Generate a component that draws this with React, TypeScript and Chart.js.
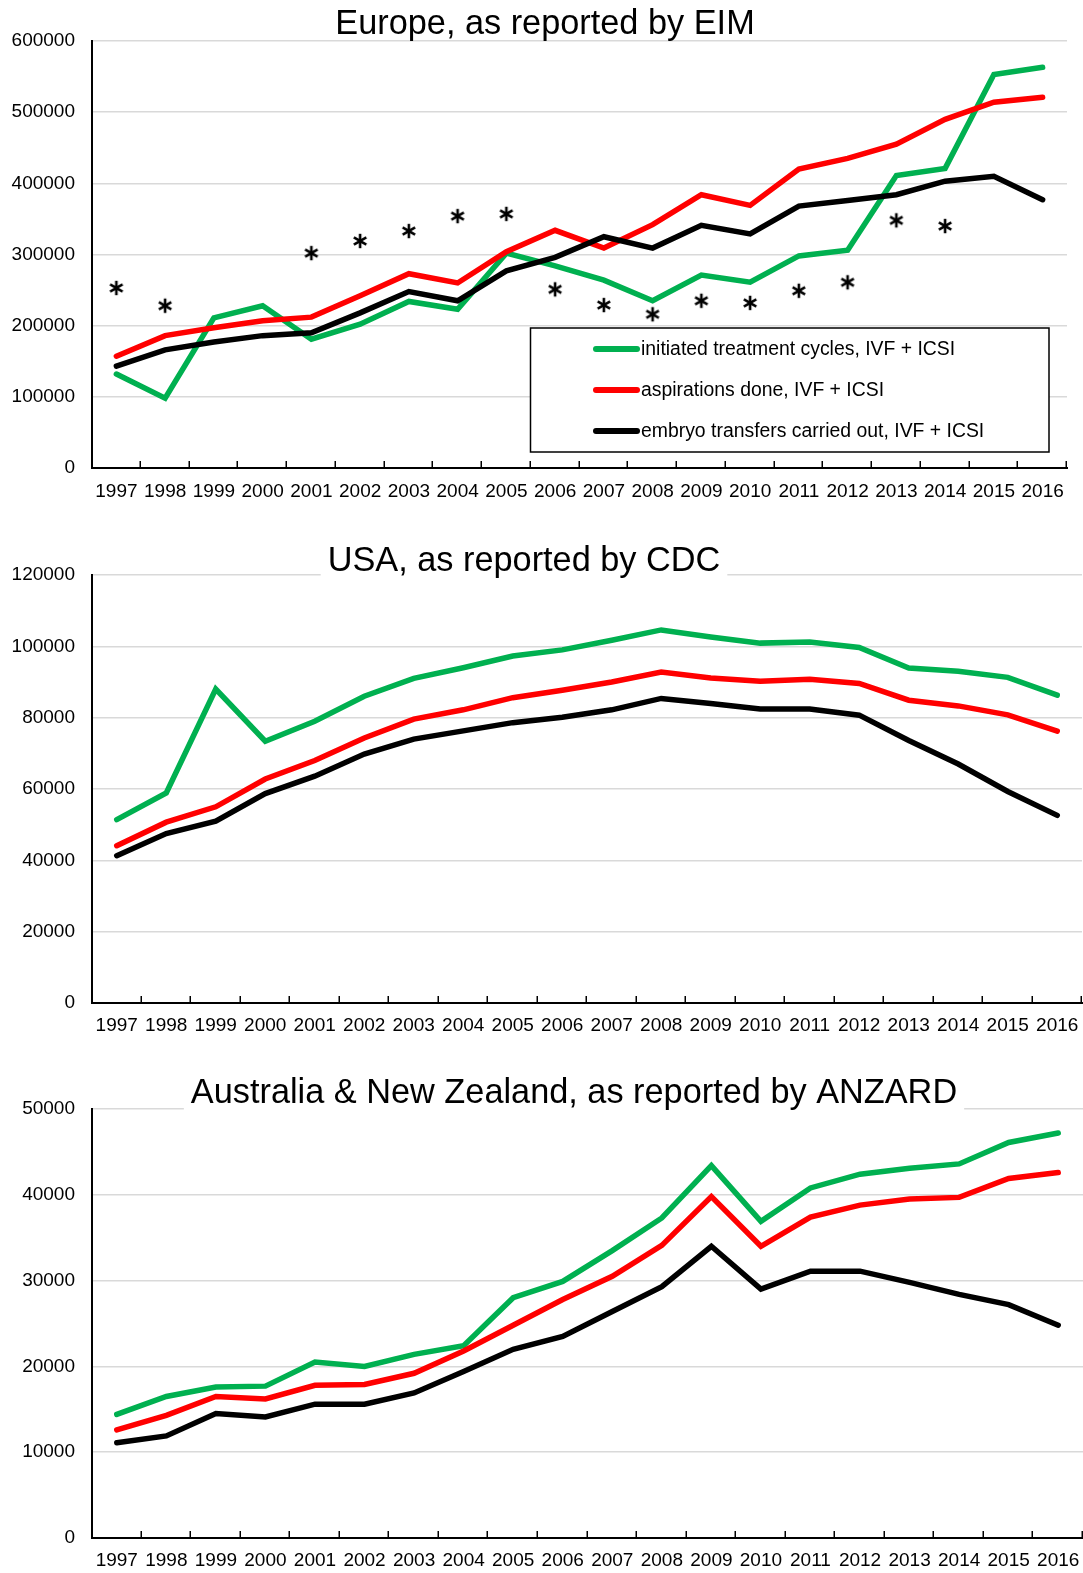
import React, { useEffect, useRef } from 'react';
import { Chart, registerables } from 'chart.js';

Chart.register(...registerables);

// ---------- data ----------
const years = ['1997', '1998', '1999', '2000', '2001', '2002', '2003', '2004', '2005', '2006', '2007', '2008', '2009', '2010', '2011', '2012', '2013', '2014', '2015', '2016'];

const seriesLabels = [
  'initiated treatment cycles, IVF + ICSI',
  'aspirations done, IVF + ICSI',
  'embryo transfers carried out, IVF + ICSI',
];

const titles = [
  'Europe, as reported by EIM',
  'USA, as reported by CDC',
  'Australia & New Zealand, as reported by ANZARD',
];

const euInitiated = [132000, 98000, 211000, 228000, 181000, 202000, 234000, 223000, 302000, 284000, 264000, 235000, 271000, 261000, 298000, 306000, 411000, 421000, 553000, 563000];
const euAspirations = [157000, 186000, 197000, 207000, 212000, 242000, 273000, 260000, 304000, 334000, 309000, 342000, 384000, 369000, 420000, 435000, 455000, 490000, 514000, 521000];
const euTransfers = [143000, 166000, 177000, 186000, 190000, 218000, 248000, 235000, 277000, 296000, 325000, 309000, 341000, 329000, 368000, 376000, 384000, 403000, 410000, 377000];
const euAsterisks = [253000, 228000, null, null, 302000, 319000, 333000, 354000, 357000, 251000, 229000, 216000, 235000, 232000, 249000, 261000, 348000, 340000, null, null];

const usInitiated = [51400, 58900, 88000, 73400, 79000, 86000, 91000, 94000, 97300, 99000, 101700, 104600, 102600, 100900, 101200, 99700, 93900, 93000, 91300, 86300];
const usAspirations = [44100, 50700, 55000, 62800, 68000, 74300, 79600, 82200, 85600, 87700, 90000, 92800, 91100, 90200, 90800, 89600, 84900, 83300, 80800, 76200];
const usTransfers = [41300, 47500, 51000, 58700, 63600, 69800, 74000, 76300, 78600, 80100, 82200, 85400, 84000, 82400, 82400, 80700, 73600, 67000, 59300, 52600];

const anzInitiated = [14400, 16500, 17600, 17700, 20500, 20000, 21400, 22400, 28000, 29900, 33500, 37300, 43400, 36900, 40800, 42400, 43100, 43600, 46100, 47200];
const anzAspirations = [12600, 14300, 16500, 16200, 17800, 17900, 19200, 21800, 24800, 27800, 30500, 34100, 39800, 34000, 37400, 38800, 39500, 39700, 41900, 42600];
const anzTransfers = [11100, 11900, 14500, 14100, 15600, 15600, 16900, 19400, 22000, 23500, 26400, 29300, 34000, 29000, 31100, 31100, 29800, 28400, 27200, 24800];

// ---------- styles ----------
const FONT = "'Liberation Sans', Arial, Helvetica, sans-serif";
const COLORS = ['#00B050', '#FF0000', '#000000'];
const W = 1083;

type Spec = {
  top: number; height: number; areaTop: number; areaBottom: number; right: number;
  max: number; step: number; title: string; titleX: number; titleBase: number; titleBg: boolean;
  labelPad: number; series: number[][]; stars?: (number | null)[]; legend?: boolean;
};

const specs: Spec[] = [
  { top: 0, height: 525, areaTop: 41, areaBottom: 468, right: 1067, max: 600000, step: 100000, title: titles[0], titleX: 545, titleBase: 34, titleBg: false, labelPad: 12, series: [euInitiated, euAspirations, euTransfers], stars: euAsterisks, legend: true },
  { top: 525, height: 530, areaTop: 50, areaBottom: 478, right: 1082, max: 120000, step: 20000, title: titles[1], titleX: 524, titleBase: 46, titleBg: true, labelPad: 11, series: [usInitiated, usAspirations, usTransfers] },
  { top: 1055, height: 518, areaTop: 54, areaBottom: 483, right: 1083, max: 50000, step: 10000, title: titles[2], titleX: 574, titleBase: 48, titleBg: true, labelPad: 11, series: [anzInitiated, anzAspirations, anzTransfers] },
];

function asteriskImage(): HTMLCanvasElement {
  const c = document.createElement('canvas');
  c.width = 18; c.height = 18;
  const g = c.getContext('2d')!;
  g.strokeStyle = '#000';
  g.lineWidth = 2.6;
  const r = 7.2;
  for (let k = 0; k < 3; k++) {
    const a = Math.PI / 2 + (k * Math.PI) / 3;
    g.beginPath();
    g.moveTo(9 + r * Math.cos(a), 9 + r * Math.sin(a));
    g.lineTo(9 - r * Math.cos(a), 9 - r * Math.sin(a));
    g.stroke();
  }
  return c;
}

function makePlugins(spec: Spec) {
  const ticks = {
    id: 'innerTicks',
    afterDraw(chart: any) {
      const xs = chart.scales.x;
      const area = chart.chartArea;
      const n = chart.data.labels.length;
      const ctx = chart.ctx;
      ctx.save();
      ctx.strokeStyle = '#000';
      ctx.lineWidth = 1.5;
      for (let i = 1; i <= n; i++) {
        const px = Math.round(xs.left + ((xs.right - xs.left) * i) / n) - 0.75;
        ctx.beginPath();
        ctx.moveTo(px, area.bottom);
        ctx.lineTo(px, area.bottom - 7);
        ctx.stroke();
      }
      ctx.restore();
    },
  };
  const title = {
    id: 'overTitle',
    afterDraw(chart: any) {
      const ctx = chart.ctx;
      ctx.save();
      ctx.font = `34.3px ${FONT}`;
      const w = ctx.measureText(spec.title).width;
      if (spec.titleBg) {
        ctx.fillStyle = '#fff';
        ctx.fillRect(spec.titleX - w / 2 - 7, spec.titleBase - 32, w + 14, 42);
      }
      ctx.fillStyle = '#000';
      ctx.textAlign = 'center';
      ctx.textBaseline = 'alphabetic';
      ctx.fillText(spec.title, spec.titleX, spec.titleBase);
      ctx.restore();
    },
  };
  const legend = {
    id: 'boxLegend',
    afterDraw(chart: any) {
      if (!spec.legend) return;
      const ctx = chart.ctx;
      const x0 = 530.5, y0 = 328, x1 = 1049, y1 = 452;
      ctx.save();
      ctx.fillStyle = '#fff';
      ctx.fillRect(x0, y0, x1 - x0, y1 - y0);
      ctx.strokeStyle = '#000';
      ctx.lineWidth = 1.5;
      ctx.strokeRect(x0, y0, x1 - x0, y1 - y0);
      ctx.font = `19.4px ${FONT}`;
      ctx.textBaseline = 'middle';
      ctx.textAlign = 'left';
      const rows = [349, 390, 431];
      chart.data.datasets.slice(0, 3).forEach((ds: any, i: number) => {
        ctx.strokeStyle = ds.borderColor;
        ctx.lineWidth = 6;
        ctx.lineCap = 'round';
        ctx.beginPath();
        ctx.moveTo(596, rows[i]);
        ctx.lineTo(637, rows[i]);
        ctx.stroke();
        ctx.fillStyle = '#000';
        ctx.fillText(ds.label, 641, rows[i] + 1);
      });
      ctx.restore();
    },
  };
  return [ticks, title, legend];
}

function ChartPanel({ spec }: { spec: Spec }) {
  const ref = useRef<HTMLCanvasElement | null>(null);
  useEffect(() => {
    const datasets: any[] = spec.series.map((d, i) => ({
      label: seriesLabels[i],
      data: d,
      borderColor: COLORS[i],
      backgroundColor: COLORS[i],
      borderWidth: 5.5,
      pointRadius: 0,
      pointHoverRadius: 0,
      tension: 0,
      fill: false,
      borderCapStyle: 'round',
      borderJoinStyle: 'miter',
      order: 3 - i,
    }));
    if (spec.stars) {
      datasets.push({
        label: 'significance',
        data: spec.stars,
        showLine: false,
        pointStyle: asteriskImage(),
        pointRadius: 9,
        pointHoverRadius: 9,
        borderColor: '#000',
        backgroundColor: '#000',
        order: 0,
      });
    }
    const tickFont = { family: FONT, size: 19 };
    const chart = new Chart(ref.current!, {
      type: 'line',
      data: { labels: years, datasets },
      options: {
        animation: false,
        responsive: false,
        events: [],
        layout: { padding: { top: spec.areaTop, left: 0, right: W - spec.right, bottom: 0 } },
        plugins: { legend: { display: false }, tooltip: { enabled: false }, title: { display: false } },
        scales: {
          x: {
            offset: true,
            afterFit: (s: any) => {
              s.height = spec.height - spec.areaBottom;
              s.paddingLeft = 0;
              s.paddingRight = 0;
            },
            ticks: { padding: spec.labelPad, color: '#000', font: tickFont, autoSkip: false, maxRotation: 0, minRotation: 0 },
            grid: { display: false, drawTicks: false },
            border: { color: '#000', width: 2 },
          },
          y: {
            min: 0,
            max: spec.max,
            afterFit: (s: any) => { s.width = 92; },
            ticks: { stepSize: spec.step, padding: 17, color: '#000', font: tickFont, callback: (v: any) => String(v) },
            grid: {
              color: (c: any) => (c.tick && c.tick.value === 0 ? 'rgba(0,0,0,0)' : '#d9d9d9'),
              lineWidth: 1.5,
              drawTicks: false,
            },
            border: { color: '#000', width: 2 },
          },
        },
      } as any,
      plugins: makePlugins(spec) as any,
    });
    return () => chart.destroy();
  }, [spec]);
  return (
    <canvas
      ref={ref}
      width={W}
      height={spec.height}
      style={{ position: 'absolute', left: 0, top: spec.top, width: W, height: spec.height }}
    />
  );
}

export default function App() {
  return (
    <div style={{ position: 'absolute', left: 0, top: 0, width: W, height: 1573, background: '#fff' }}>
      {specs.map((s, i) => (
        <ChartPanel key={i} spec={s} />
      ))}
    </div>
  );
}
